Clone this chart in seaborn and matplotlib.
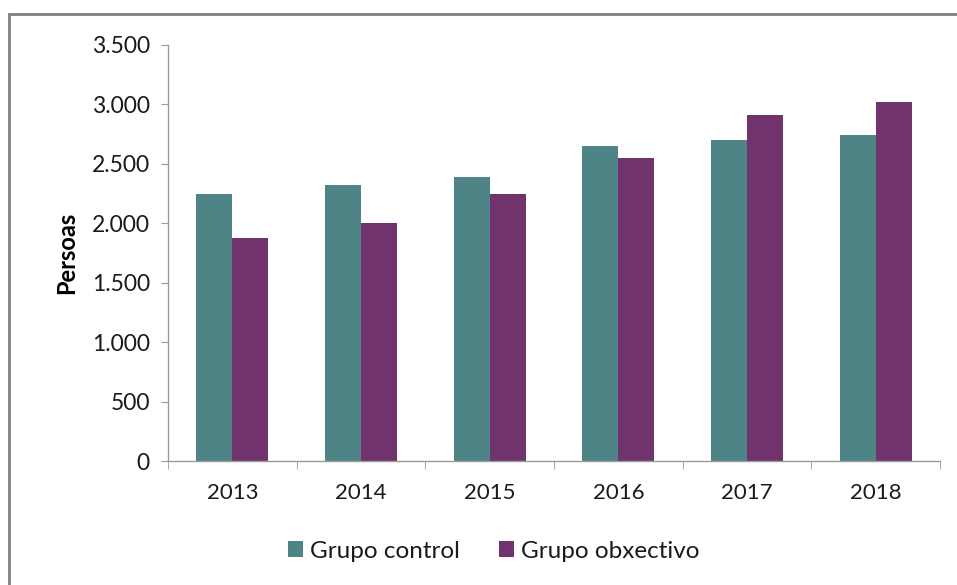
import matplotlib
matplotlib.use("Agg")
import matplotlib.pyplot as plt
import seaborn as sns
import pandas as pd
from matplotlib.patches import Rectangle, Patch

years = ["2013", "2014", "2015", "2016", "2017", "2018"]
control = [2250, 2320, 2390, 2650, 2700, 2740]
objetivo = [1880, 2000, 2250, 2550, 2910, 3020]
series_names = ["Grupo control", "Grupo obxectivo"]
colors = ["#4F8487", "#70336E"]

df = pd.DataFrame({
    "year": years * 2,
    "value": control + objetivo,
    "serie": [series_names[0]] * 6 + [series_names[1]] * 6,
})

sns.set_style("white")
plt.rcParams["font.family"] = ["Lato", "DejaVu Sans"]

fig = plt.figure(figsize=(9.57, 5.85), dpi=100)
ax = fig.add_axes([168/957, 1-461/585, (940-168)/957, (461-45)/585])

sns.barplot(data=df, x="year", y="value", hue="serie", palette=colors,
            width=0.56, gap=0, ax=ax, legend=False, saturation=1,
            edgecolor="none")

ax.set_ylim(0, 3500)
ax.set_xlim(-0.5, 5.5)
ax.set_yticks(range(0, 3501, 500))
ax.set_yticklabels([f"{v:,}".replace(",", ".") for v in range(0, 3501, 500)])
ax.set_xticks(range(6))
ax.set_xticklabels(years)
ax.set_xlabel("")
ax.set_ylabel("Persoas", fontsize=17, fontweight="bold", color="#000000", labelpad=10)

for s in ["top", "right"]:
    ax.spines[s].set_visible(False)
for s in ["left", "bottom"]:
    ax.spines[s].set_color("#9A9A9A")
    ax.spines[s].set_linewidth(1)

ax.tick_params(axis="y", which="major", left=True, length=5, color="#9A9A9A",
               labelsize=16.5, pad=8, labelcolor="#1a1a1a")
ax.tick_params(axis="x", which="major", bottom=False, labelsize=16, pad=12,
               labelcolor="#1a1a1a")
# category boundary ticks
ax.set_xticks([i - 0.5 for i in range(7)], minor=True)
ax.tick_params(axis="x", which="minor", bottom=True, length=6, color="#9A9A9A")

handles = [Patch(facecolor=c, edgecolor="none") for c in colors]
fig.legend(handles, series_names, loc="center", bbox_to_anchor=(494/957, 1-551/585),
           ncol=2, frameon=False, fontsize=17.5, handlelength=0.6, handleheight=0.6,
           handletextpad=0.3, columnspacing=1.6, labelcolor="#1a1a1a")

fig.patches.append(Rectangle((9/957, -0.1), 1.1, 1-14/585+0.1, transform=fig.transFigure,
                             fill=False, edgecolor="#808080", linewidth=2))

fig.savefig("out.png", dpi=100)
